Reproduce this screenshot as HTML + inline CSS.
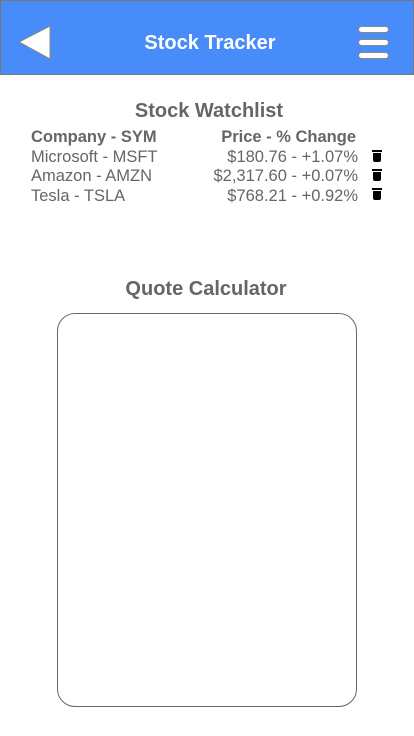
<!DOCTYPE html>
<html><head><meta charset="utf-8"><style>
body{margin:0;width:414px;height:736px;background:#fff;font-family:"Liberation Sans",Arial,sans-serif;position:relative;overflow:hidden}
.hdr{position:absolute;left:0;top:0;width:412px;height:73px;background:#478cf9;border:1px solid #777}
.t{position:absolute;white-space:nowrap}
.row{position:absolute;left:31px;width:330px;font-size:16.5px;color:#666;height:20px;line-height:20px}
.row .p{position:absolute;right:3px;top:0}
.trash{position:absolute;left:373px;width:8px;height:9px;background:#000;border-radius:0 0 2px 2px}
.trash:before{content:"";position:absolute;left:-1px;top:-3px;width:10px;height:2px;background:#000}
.bar{position:absolute;left:357px;width:29px;height:5px;background:#fff;border:1px solid #888;border-radius:4px}
</style></head><body>
<div class="hdr">
<svg style="position:absolute;left:16px;top:24px" width="36" height="36"><polygon points="2,17 33,1 33,34" fill="#fff" stroke="#888" stroke-width="1"/></svg>
<div class="t" style="left:0;width:418px;text-align:center;top:31px;font-size:20px;font-weight:bold;color:#fff">Stock Tracker</div>
<div><div class="bar" style="top:25px"></div><div class="bar" style="top:38px"></div><div class="bar" style="top:51px"></div></div>
</div>
<div class="t" style="left:0;width:418px;text-align:center;top:100px;font-size:20px;font-weight:bold;color:#666">Stock Watchlist</div>
<div class="row" style="top:127px;font-weight:bold">Company - SYM<span class="p" style="right:5px">Price - % Change</span></div>
<div class="row" style="top:147px">Microsoft - MSFT<span class="p">$180.76 - +1.07%</span></div>
<div class="row" style="top:166px">Amazon - AMZN<span class="p">$2,317.60 - +0.07%</span></div>
<div class="row" style="top:186px">Tesla - TSLA<span class="p">$768.21 - +0.92%</span></div>
<div class="trash" style="top:153px"></div>
<div class="trash" style="top:172px"></div>
<div class="trash" style="top:191px"></div>
<div class="t" style="left:0;width:412px;text-align:center;top:278px;font-size:20px;font-weight:bold;color:#666">Quote Calculator</div>
<div style="position:absolute;left:57px;top:313px;width:298px;height:392px;border:1px solid #666;border-radius:18px"></div>
</body></html>
